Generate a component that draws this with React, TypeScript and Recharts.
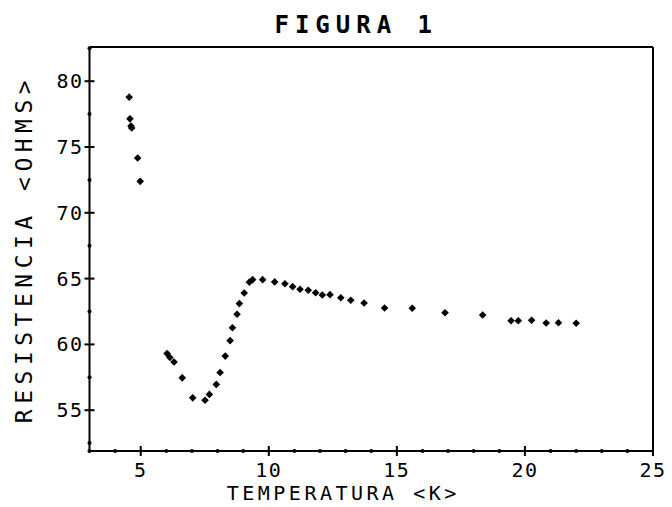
import React from 'react';
import { ScatterChart, Scatter, XAxis, YAxis, ReferenceLine } from 'recharts';

// Temperatura (K) and resistencia (ohms)
const tempK = [
  4.55, 4.58, 4.62, 4.65, 4.88, 4.98,
  6.03, 6.14, 6.3, 6.62, 7.03, 7.51, 7.68, 7.95, 8.1, 8.3, 8.49, 8.58, 8.76, 8.85,
  9.04, 9.24, 9.37, 9.76, 10.23, 10.63, 10.93, 11.22, 11.54, 11.83, 12.09, 12.39,
  12.81, 13.2, 13.72, 14.52, 15.6, 16.88, 18.35, 19.46, 19.74, 20.26, 20.83, 21.31, 22.0,
];
const resOhms = [
  78.79, 77.14, 76.6, 76.45, 74.17, 72.39,
  59.3, 59.0, 58.66, 57.46, 55.94, 55.76, 56.2, 56.96, 57.87, 59.11, 60.29, 61.27, 62.29, 63.1,
  63.91, 64.73, 64.92, 64.92, 64.75, 64.61, 64.39, 64.19, 64.12, 63.93, 63.76, 63.78,
  63.55, 63.35, 63.15, 62.77, 62.75, 62.4, 62.24, 61.8, 61.8, 61.84, 61.63, 61.65, 61.61,
];

const xTicks = [3, 4, 5, 6, 7, 8, 9, 10, 11, 12, 13, 14, 15, 16, 17, 18, 19, 20, 21, 22, 23, 24, 25];
const yTicks = [52.5, 55, 57.5, 60, 62.5, 65, 67.5, 70, 72.5, 75, 77.5, 80, 82.5];
const X_MAX = 25;
const Y_MIN = 51.9;
const Y_MAX = 82.6;

const data = tempK.map((t, i) => ({ t, r: resOhms[i] }));

const FONT = '"DejaVu Sans Mono", monospace';

const XTick = (props: any) => {
  const { x, y, payload } = props;
  const v = payload.value;
  if (v % 5 !== 0) return <circle cx={x} cy={y} r={2} fill="#000" />;
  return (
    <g>
      <line x1={x} x2={x} y1={y - 5} y2={y + 5} stroke="#000" strokeWidth={2} />
      <text x={x} y={y + 26} textAnchor="middle" fontFamily={FONT} fontSize={20} letterSpacing={1.5} fill="#000">
        {v}
      </text>
    </g>
  );
};

const YTick = (props: any) => {
  const { x, y, payload } = props;
  const v = payload.value;
  if (v % 5 !== 0) return <circle cx={x} cy={y} r={2} fill="#000" />;
  return (
    <g>
      <line x1={x - 5} x2={x + 5} y1={y} y2={y} stroke="#000" strokeWidth={2} />
      <text x={x - 6} y={y} textAnchor="end" dominantBaseline="central" fontFamily={FONT} fontSize={20} letterSpacing={1.5} fill="#000">
        {v}
      </text>
    </g>
  );
};

const Dot = (props: any) => {
  const { cx, cy } = props;
  const s = 3.8;
  return <path d={`M${cx},${cy - s}L${cx + s},${cy}L${cx},${cy + s}L${cx - s},${cy}Z`} fill="#000" />;
};

const App = () => {
  return (
    <div style={{ position: 'absolute', left: 0, top: 0, background: '#fff' }}>
      <ScatterChart width={672} height={507} margin={{ top: 47, right: 19, bottom: 16, left: 29.5 }}>
        <XAxis
          type="number"
          dataKey="t"
          domain={[3, X_MAX]}
          ticks={xTicks}
          interval={0}
          tickSize={0}
          tickMargin={0}
          tickLine={false}
          tick={<XTick />}
          height={40}
          axisLine={{ stroke: '#000', strokeWidth: 2 }}
          label={{
            content: (p: any) => (
              <text x={p.viewBox.x + p.viewBox.width / 2 - 28} y={500} textAnchor="middle" fontFamily={FONT} fontSize={20} letterSpacing={3.5} fill="#000">
                {'TEMPERATURA <K>'}
              </text>
            ),
          }}
        />
        <YAxis
          type="number"
          dataKey="r"
          domain={[Y_MIN, Y_MAX]}
          ticks={yTicks}
          interval={0}
          tickSize={0}
          tickMargin={0}
          tickLine={false}
          tick={<YTick />}
          width={60}
          axisLine={{ stroke: '#000', strokeWidth: 2 }}
          label={{
            content: () => (
              <text
                x={24}
                y={249}
                transform="rotate(-90 24 249)"
                textAnchor="middle"
                dominantBaseline="central"
                fontFamily={FONT}
                fontSize={23}
                letterSpacing={5.5}
                fill="#000"
              >
                {'RESISTENCIA <OHMS>'}
              </text>
            ),
          }}
        />
        {/* frame: top and right sides */}
        <ReferenceLine
          y={Y_MAX}
          stroke="#000"
          strokeWidth={2}
          ifOverflow="extendDomain"
          label={{
            content: (p: any) => (
              <text x={p.viewBox.x + p.viewBox.width / 2 - 15} y={33} textAnchor="middle" fontFamily={FONT} fontSize={24} fontWeight="bold" letterSpacing={6} fill="#000">
                FIGURA 1
              </text>
            ),
          }}
        />
        <ReferenceLine x={X_MAX} stroke="#000" strokeWidth={2} ifOverflow="extendDomain" />
        <Scatter data={data} shape={<Dot />} isAnimationActive={false} />
      </ScatterChart>
    </div>
  );
};

export default App;
